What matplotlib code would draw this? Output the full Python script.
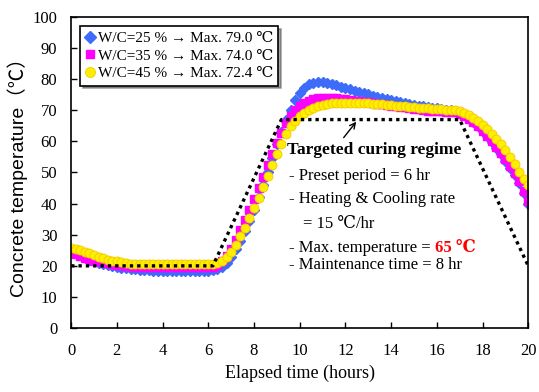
import numpy as np
import matplotlib
matplotlib.use('Agg')
import matplotlib.pyplot as plt

plt.rcParams['font.family'] = ['Liberation Serif', 'DejaVu Serif']

# elapsed time (hours), one reading every 0.2 hr
time = np.linspace(0, 20, 101)

wc25 = [25.0, 24.2, 23.4, 22.7, 22.0, 21.5, 21.0, 20.6, 20.2, 19.9,
        19.7, 19.4, 19.2, 19.0, 18.9, 18.8,
        18.7, 18.6, 18.5, 18.5, 18.5, 18.5, 18.5, 18.5, 18.5, 18.5,
        18.5, 18.5, 18.5, 18.5, 18.5,
        18.6, 18.9, 19.6, 21.0, 23.0, 25.4, 28.1, 31.1, 34.3, 38.0,
        42.0, 46.0, 50.2, 54.6, 59.0, 63.0, 66.8, 70.2, 73.2, 75.5,
        77.2, 78.3, 78.8, 79.0, 79.0, 78.8, 78.5, 78.1, 77.6, 77.1,
        76.7, 76.3, 75.9, 75.5, 75.1, 74.7, 74.3, 73.9, 73.5, 73.2,
        72.9, 72.6, 72.3, 72.0, 71.7, 71.4, 71.2, 71.0, 70.8, 70.6,
        70.4, 70.2, 70.0, 69.8, 69.4, 68.6, 67.6, 66.3, 64.9, 63.3,
        61.6, 59.8, 57.9, 55.9, 53.8, 51.5, 49.1, 46.5, 43.5, 40.0]
wc35 = [24.5, 23.7, 23.1, 22.6, 22.1, 21.7, 21.4, 21.1, 20.8, 20.6,
        20.4, 20.2, 20.0, 19.8, 19.7, 19.6,
        19.5, 19.5, 19.5, 19.5, 19.5, 19.5, 19.5, 19.5, 19.5, 19.5,
        19.5, 19.5, 19.5, 19.5, 19.5,
        19.7, 20.3, 21.5, 23.3, 25.5, 28.3, 31.4, 34.6, 37.9, 41.5,
        45.1, 48.7, 52.3, 55.9, 59.5, 62.8, 65.8, 68.2, 70.0, 71.3,
        72.3, 73.0, 73.5, 73.8, 74.0, 74.0, 74.0, 73.9, 73.7, 73.5,
        73.3, 73.1, 72.9, 72.7, 72.5, 72.3, 72.1, 71.9, 71.7, 71.5,
        71.3, 71.1, 70.9, 70.7, 70.5, 70.3, 70.1, 69.9, 69.8, 69.7,
        69.6, 69.5, 69.4, 69.3, 68.9, 68.2, 67.3, 66.1, 64.8, 63.3,
        61.7, 60.0, 58.2, 56.3, 54.3, 52.1, 49.8, 47.2, 44.2, 40.8]
wc45 = [25.8, 25.5, 25.1, 24.6, 24.0, 23.4, 22.9, 22.4, 22.0, 21.7,
        21.4, 21.1, 20.9, 20.7, 20.6, 20.5,
        20.5, 20.5, 20.5, 20.5, 20.5, 20.5, 20.5, 20.5, 20.5, 20.5,
        20.5, 20.5, 20.5, 20.5, 20.5,
        20.7, 21.0, 21.7, 22.8, 24.5, 26.8, 29.5, 32.3, 35.3, 38.5,
        41.7, 45.2, 48.8, 52.5, 56.0, 59.3, 62.3, 64.8, 66.7, 68.0,
        69.2, 70.1, 70.8, 71.3, 71.7, 72.0, 72.2, 72.3, 72.4, 72.4,
        72.4, 72.4, 72.3, 72.3, 72.2, 72.1, 72.0, 71.9, 71.8, 71.6,
        71.5, 71.4, 71.2, 71.1, 71.0, 70.8, 70.7, 70.6, 70.5, 70.4,
        70.3, 70.2, 70.1, 70.0, 69.7, 69.2, 68.5, 67.6, 66.6, 65.4,
        64.0, 62.5, 60.9, 59.1, 57.1, 55.0, 52.7, 50.3, 48.0, 46.0]

# targeted curing regime (dotted line)
target_t = [0, 6.2, 9.2, 17.0, 20.0]
target_T = [20, 20, 67, 67, 20]

labels = ['W/C=25 % \u2192 Max. 79.0 \u2103',
          'W/C=35 % \u2192 Max. 74.0 \u2103',
          'W/C=45 % \u2192 Max. 72.4 \u2103']

fig = plt.figure(figsize=(5.39, 3.92), dpi=100)
ax = fig.add_axes([0.132, 0.163, 0.848, 0.794])

ax.plot(time, wc25, ls='none', marker='D', ms=5.2, color='#3D6BFA',
        mec='#3D6BFA', label=labels[0])
ax.plot(time, wc35, ls='none', marker='s', ms=5.5, color='#FF00FF',
        mec='#FF00FF', label=labels[1])
ax.plot(time, wc45, ls='none', marker='o', ms=6.5, color='#FFEE00',
        mec='#F2C800', mew=0.6, label=labels[2])
ax.plot(target_t, target_T, color='black', lw=2.4, ls=(0, (1, 1.2)),
        dash_capstyle='butt')

ax.set_xlim(0, 20)
ax.set_ylim(0, 100)
ax.set_xticks(np.arange(0, 21, 2))
ax.set_yticks(np.arange(0, 101, 10))
ax.tick_params(direction='in', length=4, width=1, labelsize=12)
ax.tick_params(axis='x', pad=11)
ax.tick_params(axis='y', pad=10)
for s in ax.spines.values():
    s.set_linewidth(1.2)

ax.set_xlabel('Elapsed time (hours)', fontsize=13, labelpad=4)
ax.set_ylabel('Concrete temperature\uff08\u2103\uff09', fontsize=14, labelpad=3,
              family=['Liberation Sans', 'Noto Sans CJK JP'])

leg = ax.legend(loc='upper left', bbox_to_anchor=(0.01, 0.985), fontsize=11,
                frameon=True, fancybox=False, shadow=True, edgecolor='black',
                framealpha=1, handlelength=0.6, handletextpad=0.2,
                labelspacing=0.25, borderpad=0.35, borderaxespad=0.3,
                markerscale=1.1)
leg.get_frame().set_linewidth(1.2)

ax.annotate('', xy=(12.55, 67), xytext=(11.85, 60.5),
            arrowprops=dict(arrowstyle='->', color='black', lw=1))
ax.text(9.45, 57.2, 'Targeted curing regime', fontsize=12.5,
        fontweight='bold', va='center')
ax.text(9.55, 48.9, '- Preset period = 6 hr', fontsize=12, va='center')
ax.text(9.55, 41.5, '- Heating & Cooling rate', fontsize=12, va='center')
ax.text(10.15, 33.4, '= 15 \u2103/hr', fontsize=12, va='center')
t1 = ax.text(9.55, 25.7, '- Max. temperature = ', fontsize=12, va='center')
fig.canvas.draw()
bb = t1.get_window_extent().transformed(ax.transData.inverted())
ax.text(bb.x1, 25.7, '65 \u2103', fontsize=12, va='center', color='red',
        fontweight='bold')
ax.text(9.55, 20.3, '- Maintenance time = 8 hr', fontsize=12, va='center')

fig.savefig('out.png', dpi=100)
